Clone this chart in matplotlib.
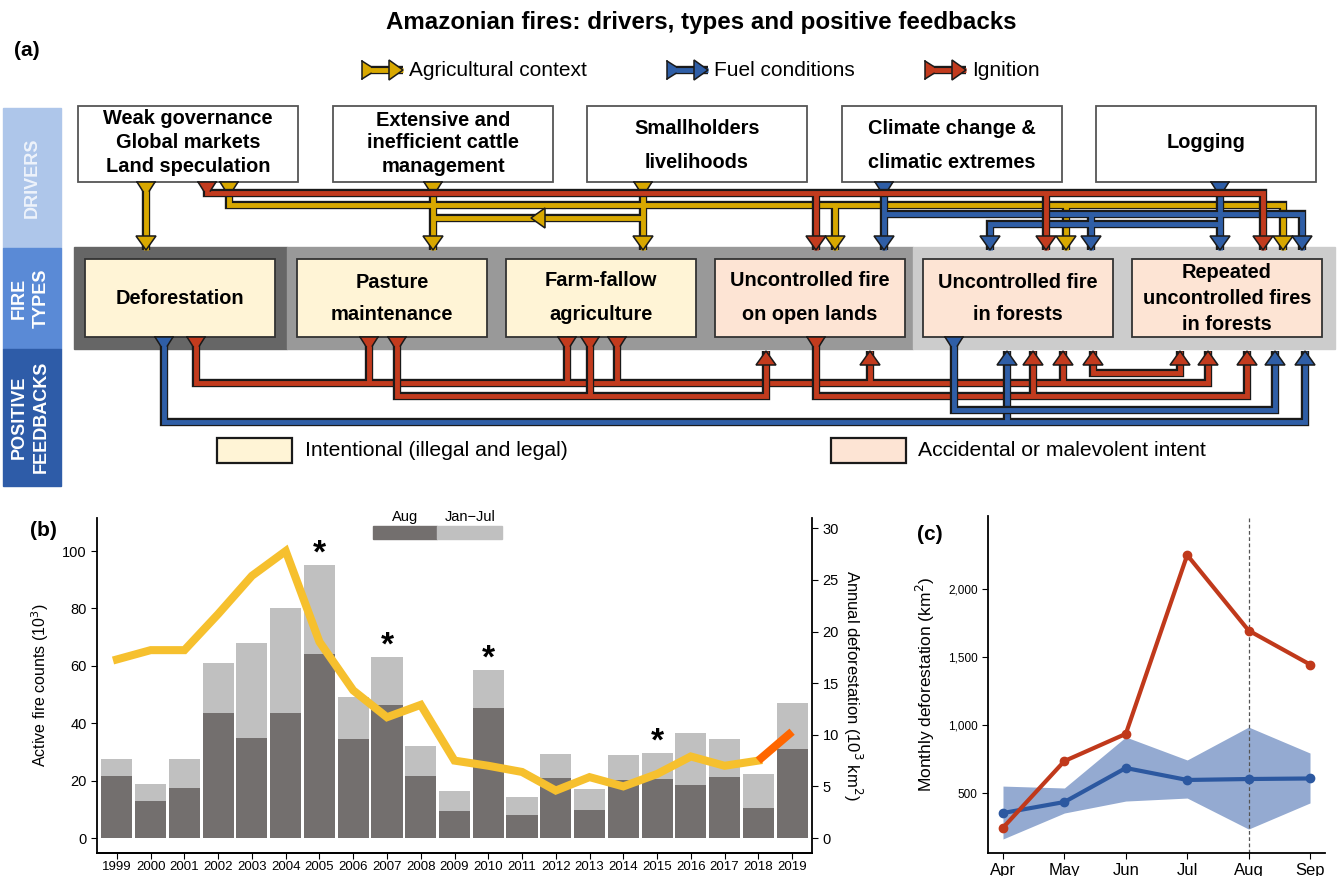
import matplotlib
matplotlib.use('Agg')
import matplotlib.pyplot as plt
from matplotlib.patches import Rectangle, Polygon

plt.rcParams['font.family'] = ['Liberation Sans', 'DejaVu Sans']

# ---------------- data ----------------
years = list(range(1999, 2020))
fires_aug = [21.5, 13.0, 17.5, 43.5, 35.0, 43.5, 64.0, 34.5, 46.5, 21.5, 9.5,
             45.3, 8.0, 20.9, 9.8, 20.2, 20.6, 18.5, 21.3, 10.5, 31.0]
fires_total = [27.5, 19.0, 27.5, 61.0, 68.0, 80.0, 95.0, 49.0, 63.0, 32.0, 16.4,
               58.5, 14.3, 29.3, 17.1, 28.9, 29.6, 36.6, 34.5, 22.3, 47.0]
deforestation = [17.3, 18.2, 18.2, 21.7, 25.4, 27.8, 19.0, 14.3, 11.7, 12.9, 7.5,
                 7.0, 6.4, 4.6, 5.9, 5.0, 6.2, 7.9, 7.0, 7.5, 10.3]
starred_years = [2005, 2007, 2010, 2015]

months = ['Apr', 'May', 'Jun', 'Jul', 'Aug', 'Sep']
monthly_2019 = [245, 735, 935, 2250, 1695, 1445]
monthly_mean = [353, 434, 684, 596, 603, 607]
monthly_upper = [551, 537, 912, 743, 985, 794]
monthly_lower = [162, 353, 441, 463, 235, 427]
c_yticks = [500, 1000, 1500, 2000]
c_yticklabels = ['500', '1,000', '1,500', '2,000']

drivers = [['Weak governance', 'Global markets', 'Land speculation'],
           ['Extensive and', 'inefficient cattle', 'management'],
           ['Smallholders', 'livelihoods'],
           ['Climate change &', 'climatic extremes'],
           ['Logging']]
fire_types = [['Deforestation'], ['Pasture', 'maintenance'], ['Farm-fallow', 'agriculture'],
              ['Uncontrolled fire', 'on open lands'], ['Uncontrolled fire', 'in forests'],
              ['Repeated', 'uncontrolled fires', 'in forests']]
fire_intent = ['int', 'int', 'int', 'acc', 'acc', 'acc']

# ---------------- colours ----------------
YEL = '#d8a800'
RED = '#c23b1e'
BLU = '#2f5ea6'
K = '#1a1a1a'
CREAM = '#fff4d6'
PEACH = '#fde4d4'

fig = plt.figure(figsize=(13.38, 8.76), dpi=100)
ax0 = fig.add_axes([0, 0, 1, 1])
ax0.set_xlim(0, 1338)
ax0.set_ylim(876, 0)
ax0.axis('off')

# title
ax0.text(701, 22, 'Amazonian fires: drivers, types and positive feedbacks', ha='center', va='center',
         fontsize=17.4, fontweight='bold')
ax0.text(14, 50, '(a)', ha='left', va='center', fontsize=15, fontweight='bold')

# side bands
ax0.add_patch(Rectangle((3, 108), 58, 140, color='#aec6ea', zorder=1))
ax0.add_patch(Rectangle((3, 248), 58, 101, color='#5a8ad6', zorder=1))
ax0.add_patch(Rectangle((3, 349), 58, 137, color='#2e5ca8', zorder=1))
ax0.text(32, 178, 'DRIVERS', rotation=90, color='#eef3fb', fontweight='bold', fontsize=13,
         ha='center', va='center')
ax0.text(30, 298, 'FIRE\nTYPES', rotation=90, color='white', fontweight='bold', fontsize=13,
         ha='center', va='center', linespacing=1.4)
ax0.text(30, 417, 'POSITIVE\nFEEDBACKS', rotation=90, color='white', fontweight='bold', fontsize=13,
         ha='center', va='center', linespacing=1.4)

# fire-type background
ax0.add_patch(Rectangle((74, 247), 213, 102, color='#666666', zorder=1))
ax0.add_patch(Rectangle((287, 247), 626, 102, color='#999999', zorder=1))
ax0.add_patch(Rectangle((913, 247), 422, 102, color='#cccccc', zorder=1))

# driver boxes
drv_x0 = [78, 333, 587, 842, 1096]
drv_line_y = [[119, 143, 167], [120, 143, 167], [128, 162], [128, 162], [143]]
for x0, lines, ys in zip(drv_x0, drivers, drv_line_y):
    ax0.add_patch(Rectangle((x0, 106), 220, 76, facecolor='white', edgecolor='#555555', lw=1.3, zorder=2))
    for t, y in zip(lines, ys):
        ax0.text(x0 + 110, y, t, ha='center', va='center', fontsize=14.4, fontweight='bold', zorder=3)

# fire type boxes
ft_x0 = [85, 297, 506, 715, 923, 1132]
ft_line_y = [[299], [282, 315], [281, 314], [281, 315], [282, 315], [273, 299, 324]]
for x0, lines, ys, kind in zip(ft_x0, fire_types, ft_line_y, fire_intent):
    ax0.add_patch(Rectangle((x0, 259), 190, 78, facecolor=CREAM if kind == 'int' else PEACH,
                            edgecolor='#333333', lw=1.3, zorder=2))
    for t, y in zip(lines, ys):
        ax0.text(x0 + 95, y, t, ha='center', va='center', fontsize=14.4, fontweight='bold', zorder=3)

# legend boxes
ax0.add_patch(Rectangle((217, 438), 75, 25, facecolor=CREAM, edgecolor=K, lw=1.6, zorder=2))
ax0.text(305, 451, 'Intentional (illegal and legal)', ha='left', va='center', fontsize=15.2)
ax0.add_patch(Rectangle((831, 438), 75, 25, facecolor=PEACH, edgecolor=K, lw=1.6, zorder=2))
ax0.text(918, 451, 'Accidental or malevolent intent', ha='left', va='center', fontsize=15.2)

OUT_LW = 6.0
IN_LW = 3.5


def head(x, y, d, color, z):
    w, L = 10, 14
    if d == 'd':
        pts = [(x - w, y - L), (x + w, y - L), (x, y)]
    elif d == 'u':
        pts = [(x - w, y + L), (x + w, y + L), (x, y)]
    elif d == 'l':
        pts = [(x + L, y - w), (x + L, y + w), (x, y)]
    else:
        pts = [(x - L, y - w), (x - L, y + w), (x, y)]
    ax0.add_patch(Polygon(pts, closed=True, fc=color, ec=K, lw=1.1, zorder=z, joinstyle='miter'))


def flare(x, y, d, color, z):
    a, b, h = 9, 3.3, 9
    if d == 'd':
        pts = [(x - a, y), (x + a, y), (x + b, y + h), (x - b, y + h)]
    elif d == 'u':
        pts = [(x - a, y), (x + a, y), (x + b, y - h), (x - b, y - h)]
    else:  # 'r'
        pts = [(x, y - a), (x, y + a), (x + h, y + b), (x + h, y - b)]
    ax0.add_patch(Polygon(pts, closed=True, fc=color, ec='none', zorder=z))
    ax0.plot([pts[0][0], pts[3][0]], [pts[0][1], pts[3][1]], color=K, lw=1.1, zorder=z + 0.01)
    ax0.plot([pts[1][0], pts[2][0]], [pts[1][1], pts[2][1]], color=K, lw=1.1, zorder=z + 0.01)
    ax0.plot([pts[0][0], pts[1][0]], [pts[0][1], pts[1][1]], color=K, lw=1.1, zorder=z + 0.01)


def network(paths, color, heads=(), flares=(), z=3):
    for p in paths:
        xs, ys = zip(*p)
        ax0.plot(xs, ys, color=K, lw=OUT_LW, solid_capstyle='butt', solid_joinstyle='miter', zorder=z)
    for p in paths:
        xs, ys = zip(*p)
        ax0.plot(xs, ys, color=color, lw=IN_LW, solid_capstyle='butt', solid_joinstyle='miter', zorder=z + 0.1)
    for (x, y, d) in heads:
        head(x, y, d, color, z + 0.2)
    for (x, y, d) in flares:
        flare(x, y, d, color, z + 0.2)


TOP, TIP_D = 182, 250
BOT, TIP_U = 337, 351

# --- drivers -> fire types
network([[(146, TOP), (146, TIP_D)],
         [(229, TOP), (229, 205), (1283, 205), (1283, TIP_D)],
         [(835, 205), (835, TIP_D)], [(1066, 205), (1066, TIP_D)],
         [(433, TOP), (433, TIP_D)], [(643, TOP), (643, TIP_D)],
         [(643, 218), (433, 218)]],
        YEL,
        heads=[(146, TIP_D, 'd'), (1283, TIP_D, 'd'), (835, TIP_D, 'd'), (1066, TIP_D, 'd'),
               (433, TIP_D, 'd'), (643, TIP_D, 'd'), (531, 218, 'l')],
        flares=[(146, TOP, 'd'), (229, TOP, 'd'), (433, TOP, 'd'), (643, TOP, 'd')], z=3)
network([[(884, TOP), (884, TIP_D)],
         [(884, 214), (1302, 214), (1302, TIP_D)],
         [(1091, 214), (1091, TIP_D)],
         [(1220, TOP), (1220, TIP_D)],
         [(1220, 224), (990, 224), (990, TIP_D)]],
        BLU,
        heads=[(884, TIP_D, 'd'), (1302, TIP_D, 'd'), (1091, TIP_D, 'd'), (1220, TIP_D, 'd'),
               (990, TIP_D, 'd')],
        flares=[(884, TOP, 'd'), (1220, TOP, 'd')], z=4)
network([[(207, TOP), (207, 193), (1263, 193), (1263, TIP_D)],
         [(816, 193), (816, TIP_D)], [(1046, 193), (1046, TIP_D)]],
        RED,
        heads=[(1263, TIP_D, 'd'), (816, TIP_D, 'd'), (1046, TIP_D, 'd')],
        flares=[(207, TOP, 'd')], z=5)

# --- positive feedbacks
network([[(196, BOT), (196, 383), (1208, 383), (1208, TIP_U)],
         [(369, BOT), (369, 383)], [(567, BOT), (567, 383)], [(617, BOT), (617, 383)],
         [(870, 383), (870, TIP_U)], [(1063, 383), (1063, TIP_U)]],
        RED,
        heads=[(1208, TIP_U, 'u'), (870, TIP_U, 'u'), (1063, TIP_U, 'u')],
        flares=[(196, BOT, 'd'), (369, BOT, 'd'), (567, BOT, 'd'), (617, BOT, 'd')], z=6)
network([[(397, BOT), (397, 396), (766, 396), (766, TIP_U)],
         [(590, BOT), (590, 396)]],
        RED,
        heads=[(766, TIP_U, 'u')],
        flares=[(397, BOT, 'd'), (590, BOT, 'd')], z=7)
network([[(816, BOT), (816, 396), (1247, 396), (1247, TIP_U)],
         [(1033, 396), (1033, TIP_U)]],
        RED,
        heads=[(1247, TIP_U, 'u'), (1033, TIP_U, 'u')],
        flares=[(816, BOT, 'd')], z=8)
network([[(1093, TIP_U), (1093, 373), (1180, 373), (1180, TIP_U)]],
        RED, heads=[(1093, TIP_U, 'u'), (1180, TIP_U, 'u')], z=9)
network([[(164, BOT), (164, 422), (1305, 422), (1305, TIP_U)],
         [(1007, 422), (1007, TIP_U)]],
        BLU,
        heads=[(1305, TIP_U, 'u'), (1007, TIP_U, 'u')],
        flares=[(164, BOT, 'd')], z=10)
network([[(954, BOT), (954, 410), (1275, 410), (1275, TIP_U)]],
        BLU, heads=[(1275, TIP_U, 'u')], flares=[(954, BOT, 'd')], z=11)

# --- arrow legend
for (x0, col, lab) in [(362, YEL, 'Agricultural context'), (667, BLU, 'Fuel conditions'),
                       (925, RED, 'Ignition')]:
    network([[(x0, 70), (x0 + 41, 70)]], col, heads=[(x0 + 41, 70, 'r')],
            flares=[(x0, 70, 'r')], z=3)
    ax0.text(x0 + 47, 71, lab, ha='left', va='center', fontsize=15)

# ---------------- panel (b) ----------------
axb = fig.add_axes([97 / 1338, 1 - 853 / 876, (812 - 97) / 1338, (853 - 518) / 876])
axb.patch.set_alpha(0)
jan_jul = [t - a for t, a in zip(fires_total, fires_aug)]
axb.bar(years, fires_aug, width=0.92, color='#736f6e', zorder=2)
axb.bar(years, jan_jul, bottom=fires_aug, width=0.92, color='#c0c0c0', zorder=2)
for yr in starred_years:
    i = years.index(yr)
    axb.text(yr, fires_total[i] + 4.0, '*', ha='center', va='center', fontsize=24, fontweight='bold')
axb.set_xlim(1999 - 0.59, 2019 + 0.59)
axb.set_ylim(-5.2, 111.5)
axb.set_yticks([0, 20, 40, 60, 80, 100])
axb.set_xticks(years)
axb.set_xticklabels([str(y) for y in years], fontsize=9.5)
axb.tick_params(axis='y', labelsize=10.5, length=4)
axb.tick_params(axis='x', length=4, pad=2)
axb.set_ylabel('Active fire counts (10$^3$)', fontsize=11.5, labelpad=8)
axb.spines['top'].set_visible(False)
axb.spines['right'].set_visible(False)
for s in ['left', 'bottom']:
    axb.spines[s].set_linewidth(1.3)

axb2 = axb.twinx()
axb2.patch.set_alpha(0)
axb2.plot(years[:-1], deforestation[:-1], color='#f6c02e', lw=5.8, solid_joinstyle='miter', zorder=3)
axb2.plot(years[-2:], deforestation[-2:], color='#ff6600', lw=5.8, solid_capstyle='butt', zorder=3)
axb2.set_ylim(-1.45, 31)
axb2.set_yticks([0, 5, 10, 15, 20, 25, 30])
axb2.tick_params(axis='y', labelsize=10.5, length=4)
axb2.set_ylabel('Annual deforestation (10$^3$ km$^2$)', fontsize=12, rotation=270, labelpad=18)
axb2.spines['top'].set_visible(False)
axb2.spines['left'].set_visible(False)
axb2.spines['right'].set_linewidth(1.3)
axb2.spines['bottom'].set_linewidth(1.3)

ax0.text(30, 531, '(b)', ha='left', va='center', fontsize=15, fontweight='bold')
ax0.add_patch(Rectangle((373, 526), 64, 13, color='#736f6e', zorder=2))
ax0.add_patch(Rectangle((437, 526), 65, 13, color='#c0c0c0', zorder=2))
ax0.text(405, 517, 'Aug', ha='center', va='center', fontsize=10.5)
ax0.text(470, 517, 'Jan\u2212Jul', ha='center', va='center', fontsize=10.5)

# ---------------- panel (c) ----------------
axc = fig.add_axes([988 / 1338, 1 - 853 / 876, (1325 - 988) / 1338, (853 - 516) / 876])
axc.patch.set_alpha(0)
xm = list(range(len(months)))
axc.fill_between(xm, monthly_lower, monthly_upper, color='#94aad1', lw=0, zorder=1)
axc.plot(xm, monthly_mean, color='#2c58a0', lw=3, marker='o', ms=6, zorder=3)
axc.plot(xm, monthly_2019, color='#c0391b', lw=3, marker='o', ms=6, zorder=4)
axc.axvline(4, color='#555555', lw=0.9, ls=(0, (3, 2)), zorder=2)
axc.set_xlim(-0.244, 5.244)
axc.set_ylim(59, 2537)
axc.set_xticks(xm)
axc.set_xticklabels(months, fontsize=12)
axc.set_yticks(c_yticks)
axc.set_yticklabels(c_yticklabels, fontsize=8.5)
axc.tick_params(length=4)
axc.set_ylabel('Monthly deforestation (km$^2$)', fontsize=12.5, labelpad=8)
axc.spines['top'].set_visible(False)
axc.spines['right'].set_visible(False)
for s in ['left', 'bottom']:
    axc.spines[s].set_linewidth(1.3)
ax0.text(917, 535, '(c)', ha='left', va='center', fontsize=15, fontweight='bold')

fig.savefig('out.png', dpi=100)
